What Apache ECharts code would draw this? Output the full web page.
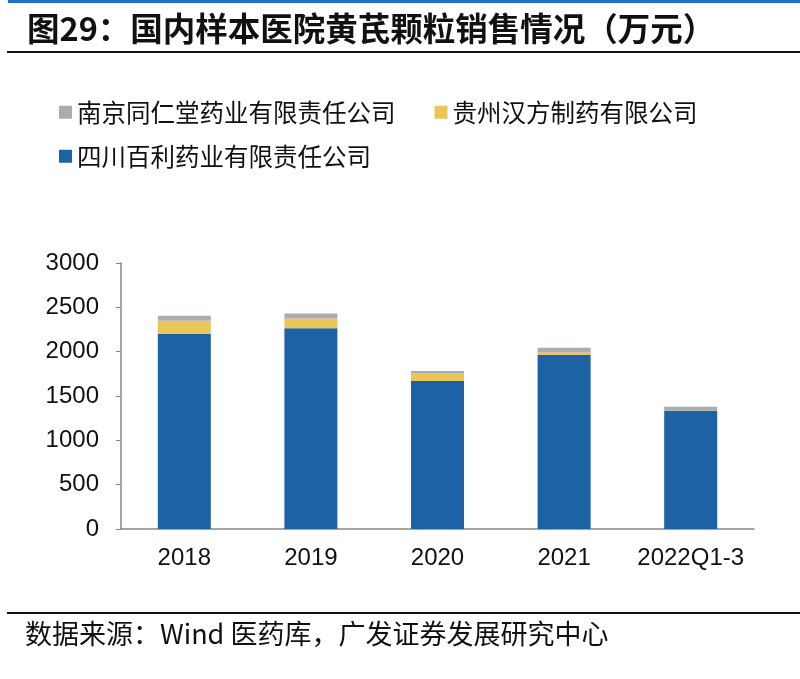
<!DOCTYPE html>
<html>
<head>
<meta charset="utf-8">
<script src="https://cdn.jsdelivr.net/npm/echarts@6/dist/echarts.min.js"></script>
<style>
html,body{margin:0;padding:0;background:#fff;}
#main{width:800px;height:679px;}
</style>
</head>
<body>
<div id="main"></div>
<script>
const categories = ['2018', '2019', '2020', '2021', '2022Q1-3'];
const sichuanBaili = [2200, 2265, 1668, 1962, 1333];
const guizhouHanfang = [150, 108, 87, 30, 0];
const nanjingTongrentang = [56, 57, 27, 52, 46];
const yTicks = [0, 500, 1000, 1500, 2000, 2500, 3000];

const nameA = '南京同仁堂药业有限责任公司';
const nameB = '贵州汉方制药有限公司';
const nameC = '四川百利药业有限责任公司';

const cjk = '"Noto Sans CJK SC", sans-serif';
const latin = '"Liberation Sans", Arial, sans-serif';

const chart = echarts.init(document.getElementById('main'));
chart.setOption({
  backgroundColor: '#fff',
  animation: false,
  title: {
    text: '图29：国内样本医院黄芪颗粒销售情况（万元）',
    left: 22, top: 7,
    textStyle: {fontFamily: cjk, fontSize: 32.5, fontWeight: 'bold', color: '#111'}
  },
  graphic: [
    {type: 'rect', shape: {x: 8, y: 0, width: 792, height: 3}, style: {fill: '#1e72c6'}},
    {type: 'rect', shape: {x: 7, y: 51, width: 793, height: 2}, style: {fill: '#111'}},
    {type: 'rect', shape: {x: 7, y: 612, width: 793, height: 2}, style: {fill: '#111'}},
    {type: 'text', left: 25, top: 620, style: {text: '数据来源：Wind 医药库，广发证券发展研究中心', font: '27px "Noto Sans CJK SC", sans-serif', fill: '#111'}}
  ],
  legend: [
    {data: [nameA, nameB], left: 54, top: 95, itemWidth: 13, itemHeight: 13, itemGap: 39,
     icon: 'rect', textStyle: {fontFamily: cjk, fontSize: 24.5, color: '#111'}},
    {data: [nameC], left: 54, top: 139, itemWidth: 13, itemHeight: 13,
     icon: 'rect', textStyle: {fontFamily: cjk, fontSize: 24.5, color: '#111'}}
  ],
  grid: {left: 121, right: 46, top: 263, bottom: 150},
  xAxis: {
    type: 'category', data: categories,
    axisLine: {lineStyle: {color: '#888', width: 1.5}},
    axisTick: {show: false},
    axisLabel: {fontFamily: latin, fontSize: 24, color: '#111', margin: 17, interval: 0}
  },
  yAxis: {
    type: 'value', min: yTicks[0], max: yTicks[yTicks.length - 1], interval: 500,
    axisLine: {show: true, lineStyle: {color: '#888', width: 1.5}},
    axisTick: {show: true, length: 5, lineStyle: {color: '#888'}},
    splitLine: {show: false},
    axisLabel: {fontFamily: latin, fontSize: 24, color: '#111', margin: 22, formatter: v => String(v)}
  },
  series: [
    {name: nameC, type: 'bar', stack: 's', data: sichuanBaili, barWidth: 53, itemStyle: {color: '#1d62a5'}},
    {name: nameB, type: 'bar', stack: 's', data: guizhouHanfang, barWidth: 53, itemStyle: {color: '#e9c55a'}},
    {name: nameA, type: 'bar', stack: 's', data: nanjingTongrentang, barWidth: 53, itemStyle: {color: '#abacaf'}}
  ]
});
</script>
</body>
</html>
